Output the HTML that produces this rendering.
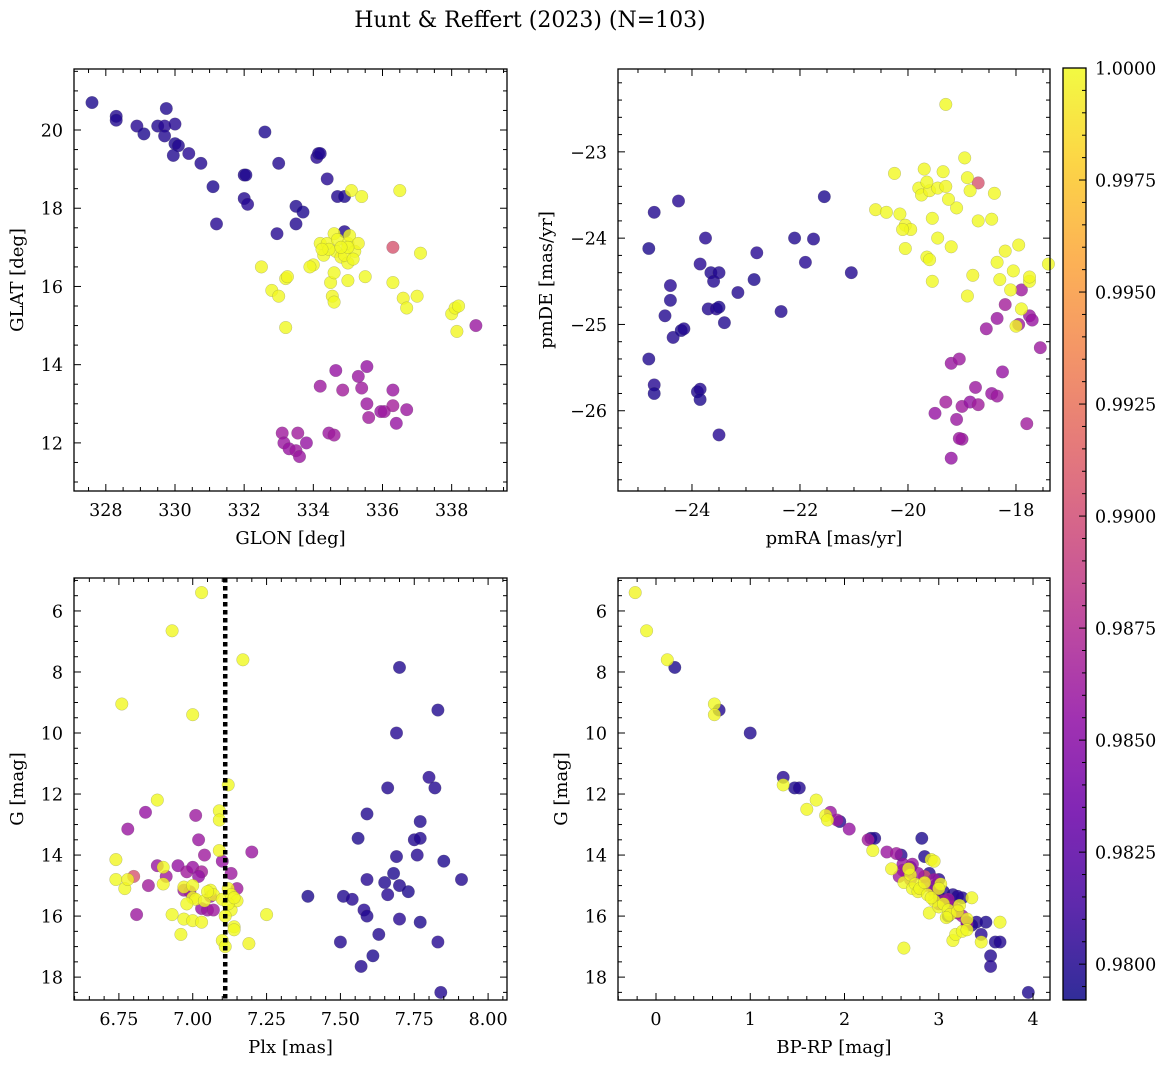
<!DOCTYPE html>
<html><head><meta charset="utf-8"><title>Hunt & Reffert (2023)</title>
<style>
body{margin:0;background:#fff;}
svg text{font-family:"DejaVu Serif","Liberation Serif",serif;fill:#000;}
</style></head>
<body>
<svg id="fig" xmlns="http://www.w3.org/2000/svg" width="1173" height="1068" viewBox="0 0 1173 1068">
<rect width="1173" height="1068" fill="#fff"/>
<text x="530" y="27" font-size="22" text-anchor="middle">Hunt &amp; Reffert (2023) (N=103)</text>
</svg>
<script>
// ---- data (blue 34, purple 25, yellow 44) ----
const glon = [327.6,328.3,328.3,328.9,329.1,329.5,329.7,329.75,329.7,330,330,330.1,329.95,330.4,330.75,331.1,331.2,332,332.05,332,332.1,332.6,333,332.95,333.5,333.5,333.7,334.1,334.15,334.2,334.4,334.7,334.9,334.9,
336.3,338.7,334.2,334.65,334.85,335.3,335.4,335.55,335.55,335.6,335.95,336.05,336.3,336.3,336.4,336.7,333.1,333.15,333.3,333.5,333.55,333.6,333.8,334.45,334.6,
332.5,332.8,333,333.2,333.25,333.2,334.0,334.2,334.3,334.4,334.5,334.55,334.6,334.6,334.6,334.65,334.7,334.8,335,335,335,335.05,335.1,335.2,335.3,335.4,335.5,334.9,336.3,336.5,336.6,336.7,337,337.1,338,338.1,338.2,338.15,334.45,335.0,334.25,335.15,334.8,333.9];
const glat = [20.7,20.35,20.25,20.1,19.9,20.1,20.1,20.55,19.85,20.15,19.65,19.6,19.35,19.4,19.15,18.55,17.6,18.85,18.85,18.25,18.1,19.95,19.15,17.35,18.05,17.6,17.9,19.3,19.4,19.4,18.75,18.3,18.3,17.4,
17.0,15.0,13.45,13.85,13.35,13.7,13.4,13.95,13.0,12.65,12.8,12.8,13.35,12.95,12.5,12.85,12.25,12.0,11.85,11.8,12.25,11.65,12.0,12.25,12.2,
16.5,15.9,15.75,16.2,16.25,14.95,16.55,17.1,16.8,17.1,16.1,15.75,15.6,16.35,17.35,16.9,17.2,16.75,17.1,16.6,16.15,17.3,18.45,16.9,17.1,18.3,16.25,16.8,16.1,18.45,15.7,15.45,15.75,16.85,15.3,15.45,15.5,14.85,16.95,17.0,16.95,16.7,17.0,16.5];
const pmra = [-24.8,-24.7,-24.8,-24.7,-24.7,-24.5,-24.4,-24.4,-24.35,-24.25,-24.2,-24.15,-23.9,-23.85,-23.85,-23.85,-23.75,-23.7,-23.65,-23.6,-23.55,-23.5,-23.5,-23.5,-23.4,-23.15,-22.85,-22.8,-22.35,-22.1,-21.9,-21.75,-21.55,-21.05,
-18.7,-19.2,-19.05,-19.5,-19.3,-19.1,-19.0,-18.85,-18.75,-18.7,-18.45,-18.35,-18.35,-18.2,-18.25,-18.55,-17.9,-17.75,-17.7,-17.55,-17.8,-19.0,-19.2,-19.05,-17.95,
-20.6,-20.4,-20.25,-20.15,-20.05,-20.05,-19.95,-19.8,-19.75,-19.7,-19.65,-19.6,-19.55,-19.55,-19.45,-19.45,-19.35,-19.3,-19.3,-19.2,-19.1,-18.95,-18.9,-18.85,-18.8,-18.7,-18.45,-18.4,-18.35,-18.3,-18.2,-18.05,-17.95,-17.9,-17.75,-17.75,-17.4,-18.0,-19.65,-19.25,-20.1,-19.6,-18.9,-18.1];
const pmde = [-24.12,-23.7,-25.4,-25.7,-25.8,-24.9,-24.55,-24.72,-25.15,-23.57,-25.07,-25.05,-25.78,-24.3,-25.75,-25.87,-24.0,-24.82,-24.4,-24.5,-24.82,-24.8,-24.4,-26.28,-24.98,-24.63,-24.48,-24.17,-24.85,-24.0,-24.28,-24.01,-23.52,-24.4,
-23.36,-25.45,-25.4,-26.03,-25.9,-26.1,-25.95,-25.9,-25.73,-25.93,-25.8,-25.83,-24.93,-24.77,-25.55,-25.05,-24.6,-24.9,-24.95,-25.27,-26.15,-26.33,-26.55,-26.32,-25.0,
-23.67,-23.7,-23.25,-23.72,-23.85,-24.12,-23.9,-23.42,-23.5,-23.2,-24.22,-23.45,-24.5,-23.77,-23.42,-24.0,-23.23,-23.4,-22.45,-24.1,-23.65,-23.07,-24.67,-23.45,-24.43,-23.8,-23.78,-23.48,-24.28,-24.48,-24.15,-24.38,-24.08,-24.82,-24.5,-24.45,-24.3,-25.02,-23.35,-23.55,-23.9,-24.25,-23.3,-24.6];
const plx = [7.39,7.50,7.51,7.54,7.56,7.57,7.58,7.59,7.59,7.59,7.61,7.63,7.65,7.66,7.66,7.68,7.69,7.69,7.70,7.70,7.70,7.73,7.75,7.76,7.77,7.77,7.77,7.80,7.82,7.83,7.83,7.84,7.85,7.91,
6.80,6.78,6.81,6.84,6.85,6.88,6.91,6.95,6.97,6.98,7.00,7.01,7.02,7.03,7.03,7.05,7.04,7.06,7.10,7.13,7.15,7.20,7.02,6.99,7.07,
6.74,6.74,6.76,6.77,6.78,6.88,6.90,6.90,6.93,6.93,6.96,6.97,6.97,7.00,7.00,7.00,7.00,7.01,7.03,7.03,7.04,7.06,7.07,7.09,7.09,7.09,7.10,7.10,7.11,7.12,7.12,7.13,7.13,7.14,7.14,7.15,7.17,7.19,7.25,7.12,7.14,6.98,7.05,7.11];
const gmagL = [15.35,16.85,15.35,15.45,13.45,17.65,15.8,12.65,16.0,14.8,17.3,16.6,14.9,15.3,11.8,14.6,10.0,14.05,7.85,15.0,16.1,15.2,13.5,14.0,12.9,13.45,16.2,11.45,11.8,9.25,16.85,18.5,14.2,14.8,
14.7,13.15,15.95,12.6,15.0,14.35,14.7,14.35,15.15,14.55,14.4,12.7,13.5,14.55,15.75,15.8,14.0,15.35,14.2,14.6,15.1,13.9,14.7,15.2,15.8,
14.15,14.8,9.05,15.1,14.8,12.2,14.95,14.4,15.95,6.65,16.6,15.05,16.1,9.4,16.15,15.4,15.0,15.45,5.4,16.2,15.5,15.15,15.3,12.55,13.85,12.85,16.8,15.45,17.0,11.7,15.1,15.3,15.8,16.35,16.45,15.5,7.6,16.9,15.95,15.6,15.4,15.6,15.2,16.0];
const bprp = [0.2,0.67,1.0,1.35,1.47,1.52,1.95,2.28,2.32,2.6,2.82,2.85,2.97,3.0,3.05,3.1,3.2,3.25,3.3,3.4,3.45,3.5,3.55,3.55,3.6,3.65,3.95,2.7,2.9,3.15,3.2,3.35,3.0,3.1,
2.85,1.85,1.92,2.05,2.25,2.45,2.55,2.62,2.65,2.7,2.78,2.85,2.95,3.05,3.15,3.2,3.25,2.62,2.72,2.95,3.1,2.8,3.0,3.3,2.58,
-0.22,-0.1,0.12,0.62,0.62,1.35,1.6,1.7,1.8,1.82,2.3,2.5,2.63,2.63,2.7,2.72,2.75,2.78,2.8,2.85,2.9,2.92,2.95,3.0,3.02,3.05,3.1,3.12,3.15,3.18,3.2,3.25,3.3,3.3,3.35,3.45,3.65,2.95,2.68,3.08,3.22,2.88,3.0,2.92];
const gmagR = [7.85,9.25,10.0,11.45,11.8,11.8,12.9,13.45,13.45,14.0,13.45,14.05,15.0,14.8,15.2,15.5,15.8,15.4,16.2,16.2,16.6,16.2,17.3,17.65,16.85,16.85,18.5,14.4,14.6,15.3,15.35,16.3,15.35,16.0,
14.7,12.6,12.85,13.15,13.5,13.9,13.95,14.3,14.55,14.8,14.6,15.0,15.2,15.5,15.7,15.9,16.0,14.5,14.3,14.8,15.45,15.1,15.6,16.25,14.7,
5.4,6.65,7.6,9.05,9.4,11.7,12.5,12.2,12.7,12.85,13.85,14.45,14.9,17.05,14.65,15.1,14.95,15.2,15.1,14.9,15.9,14.15,15.5,15.7,14.95,15.6,15.8,15.95,16.8,16.6,15.85,16.5,16.1,16.45,15.4,16.85,16.2,14.2,14.45,16.05,15.65,15.3,15.1,15.4];
const prob = [0.9797,0.9800,0.9799,0.9801,0.9798,0.9800,0.9802,0.9799,0.9800,0.9801,0.9798,0.9800,0.9799,0.9802,0.9800,0.9798,0.9801,0.9800,0.9799,0.9800,0.9802,0.9798,0.9800,0.9801,0.9799,0.9800,0.9798,0.9802,0.9800,0.9799,0.9801,0.9800,0.9798,0.9800,
0.9905,0.9860,0.9862,0.9858,0.9865,0.9860,0.9863,0.9857,0.9861,0.9864,0.9859,0.9862,0.9860,0.9866,0.9858,0.9861,0.9863,0.9860,0.9859,0.9862,0.9864,0.9860,0.9857,0.9861,0.9863,
0.9998,1.0,0.9999,1.0,0.9998,1.0,0.9999,1.0,1.0,0.9999,1.0,0.9998,1.0,1.0,0.9999,1.0,1.0,0.9998,1.0,0.9999,1.0,1.0,0.9999,1.0,0.9998,1.0,1.0,0.9999,1.0,1.0,0.9998,1.0,0.9999,1.0,1.0,0.9999,1.0,0.9998,1.0,1.0,0.9999,1.0,1.0,0.9999];
const cbTicks = [0.9800,0.9825,0.9850,0.9875,0.9900,0.9925,0.9950,0.9975,1.0000];
const plxCut = 7.11;

const NS="http://www.w3.org/2000/svg";
const svg=document.getElementById('fig');
function mk(tag,attrs,parent){const e=document.createElementNS(NS,tag);for(const k in attrs)e.setAttribute(k,attrs[k]);(parent||svg).appendChild(e);return e;}

const stops=[[0,[13,8,135]],[0.1,[65,4,157]],[0.2,[106,0,168]],[0.3,[143,13,164]],[0.4,[177,42,144]],[0.5,[204,71,120]],[0.6,[225,100,98]],[0.7,[242,132,75]],[0.8,[252,166,54]],[0.9,[252,206,37]],[1,[240,249,33]]];
function plasma(t){t=Math.max(0,Math.min(1,t));for(let i=1;i<stops.length;i++){if(t<=stops[i][0]){const a=stops[i-1],b=stops[i];const f=(t-a[0])/(b[0]-a[0]);const c=a[1].map((v,j)=>Math.round(v+(b[1][j]-v)*f));return `rgb(${c[0]},${c[1]},${c[2]})`;}}return 'rgb(240,249,33)';}
const vmin=0.97920,vmax=1.0;
function col(p){return plasma((p-vmin)/(vmax-vmin));}

function fmt(v,d){const s=Math.abs(v).toFixed(d);return (v<0?'\u2212':'')+s;}

function panel(o){
  const g=mk('g',{});
  
  
  const X=v=>o.x0+(v-o.xmin)/(o.xmax-o.xmin)*(o.x1-o.x0);
  const Y=o.yinv? (v=>o.y0+(v-o.ymin)/(o.ymax-o.ymin)*(o.y1-o.y0)) : (v=>o.y1-(v-o.ymin)/(o.ymax-o.ymin)*(o.y1-o.y0));
  const pg=mk('g',{},g);
  
  
  for(let i=0;i<o.xs.length;i++){
    const c=mk('circle',{cx:X(o.xs[i]).toFixed(1),cy:Y(o.ys[i]).toFixed(1),r:6.3,fill:col(prob[i]),'fill-opacity':0.8,stroke:'#555','stroke-width':0.3,'stroke-opacity':0.6},pg);
    
    
  }
  if(o.vline!==undefined){
    const l=mk('line',{x1:X(o.vline),x2:X(o.vline),y1:o.y0,y2:o.y1,stroke:'#000','stroke-width':4.5,'stroke-dasharray':'4.5,3.5'},g);
    
    
  }
  const tg=mk('g',{stroke:'#000','stroke-width':1},g);
  const eps=1e-9;
  for(let v=Math.ceil(o.xmin/o.xminor-eps)*o.xminor;v<=o.xmax+eps;v+=o.xminor){
    const x=X(v);const isMaj=Math.abs(v/o.xmajor-Math.round(v/o.xmajor))<1e-6;const L=isMaj?7:4;
    mk('line',{x1:x,x2:x,y1:o.y1,y2:o.y1-L},tg);mk('line',{x1:x,x2:x,y1:o.y0,y2:o.y0+L},tg);
  }
  for(let v=Math.ceil(o.ymin/o.yminor-eps)*o.yminor;v<=o.ymax+eps;v+=o.yminor){
    const y=Y(v);const isMaj=Math.abs(v/o.ymajor-Math.round(v/o.ymajor))<1e-6;const L=isMaj?7:4;
    mk('line',{x1:o.x0,x2:o.x0+L,y1:y,y2:y},tg);mk('line',{x1:o.x1,x2:o.x1-L,y1:y,y2:y},tg);
  }
  o.xticks.forEach(v=>{const t=mk('text',{x:X(v),y:o.y1+25,'font-size':17.5,'text-anchor':'middle'},g);t.textContent=fmt(v,o.xdec);});
  o.yticks.forEach(v=>{const t=mk('text',{x:o.x0-11,y:Y(v)+6.5,'font-size':17.5,'text-anchor':'end'},g);t.textContent=fmt(v,0);});
  mk('rect',{x:o.x0,y:o.y0,width:o.x1-o.x0,height:o.y1-o.y0,fill:'none',stroke:'#000','stroke-width':1.3},g);
  const xl=mk('text',{x:(o.x0+o.x1)/2,y:o.y1+53,'font-size':18,'text-anchor':'middle'},g);xl.textContent=o.xlabel;
  
  const cy=(o.y0+o.y1)/2;const yl=mk('text',{x:0,y:0,'font-size':18,'text-anchor':'middle',transform:`translate(${o.x0-o.ylOff},${cy}) rotate(-90)`},g);yl.textContent=o.ylabel;
  
}

panel({name:'glon-glat-panel',x0:74,x1:507,y0:69,y1:491,xmin:327.08,xmax:339.6,ymin:10.77,ymax:21.56,xs:glon,ys:glat,xmajor:2,xminor:0.5,ymajor:2,yminor:0.5,xticks:[328,330,332,334,336,338],yticks:[12,14,16,18,20],xdec:0,xlabel:'GLON [deg]',ylabel:'GLAT [deg]',ylOff:51});
panel({name:'proper-motion-panel',x0:618,x1:1050,y0:69,y1:491,xmin:-25.37,xmax:-17.37,ymin:-26.93,ymax:-22.04,xs:pmra,ys:pmde,xmajor:2,xminor:0.5,ymajor:1,yminor:0.2,xticks:[-24,-22,-20,-18],yticks:[-26,-25,-24,-23],xdec:0,xlabel:'pmRA [mas/yr]',ylabel:'pmDE [mas/yr]',ylOff:66});
panel({name:'parallax-mag-panel',x0:74,x1:507,y0:578,y1:1000,xmin:6.598,xmax:8.064,ymin:4.92,ymax:18.75,yinv:true,xs:plx,ys:gmagL,xmajor:0.25,xminor:0.05,ymajor:2,yminor:0.5,xticks:[6.75,7.00,7.25,7.50,7.75,8.00],yticks:[6,8,10,12,14,16,18],xdec:2,xlabel:'Plx [mas]',ylabel:'G [mag]',vline:plxCut,ylOff:51});
panel({name:'cmd-panel',x0:618,x1:1050,y0:578,y1:1000,xmin:-0.403,xmax:4.18,ymin:4.92,ymax:18.75,yinv:true,xs:bprp,ys:gmagR,xmajor:1,xminor:0.2,ymajor:2,yminor:0.5,xticks:[0,1,2,3,4],yticks:[6,8,10,12,14,16,18],xdec:0,xlabel:'BP-RP [mag]',ylabel:'G [mag]',ylOff:51});

const cb=mk('g',{});


const defs=mk('defs',{},svg);
const grad=mk('linearGradient',{id:'pl',x1:0,y1:1,x2:0,y2:0},defs);
for(let i=0;i<=40;i++){const t=i/40;mk('stop',{offset:t,'stop-color':plasma(t),'stop-opacity':0.85},grad);}
const cbx0=1063,cbx1=1086,cby0=68,cby1=1000;
const CY=v=>cby1-(v-vmin)/(vmax-vmin)*(cby1-cby0);
mk('rect',{x:cbx0,y:cby0,width:cbx1-cbx0,height:cby1-cby0,fill:'url(#pl)',stroke:'#000','stroke-width':1.3},cb);
for(let k=Math.ceil(vmin/0.0005);k*0.0005<=vmax+1e-9;k++){const v=k*0.0005;const maj=(k%5===0);mk('line',{x1:cbx1,x2:cbx1-(maj?7:4),y1:CY(v),y2:CY(v),stroke:'#000','stroke-width':1},cb);}
cbTicks.forEach(v=>{const t=mk('text',{x:cbx1+9,y:CY(v)+6.5,'font-size':17.5},cb);t.textContent=v.toFixed(4);});
</script>
</body></html>
